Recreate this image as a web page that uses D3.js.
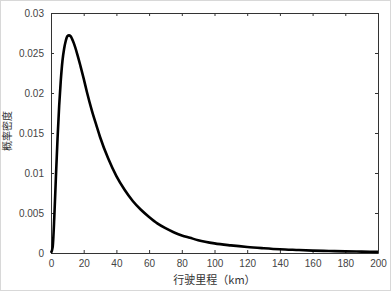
<!DOCTYPE html>
<html>
<head>
<meta charset="utf-8">
<script src="https://cdn.jsdelivr.net/npm/d3@7"></script>
<style>
  body { margin: 0; background: #fff; }
  .axis text { font-family: Arial, "Liberation Sans", sans-serif; font-size: 10px; fill: #444; }
  .axis path, .axis line { stroke: #333; }
</style>
</head>
<body>
<div id="d3"></div>
<script>
// mileage (km) and probability density
var km = [0, 1, 2, 3, 4, 5, 6, 7, 8, 9, 10, 11, 12, 13, 14, 16, 18, 20, 22, 25, 28, 30,
  35, 40, 45, 50, 55, 60, 65, 70, 75, 80, 85, 90, 100, 110, 120, 130, 140, 150, 160, 170, 180, 190, 200];
var density = [0, 0.0007, 0.0044, 0.0095, 0.0143, 0.0184, 0.0216, 0.0240, 0.0255, 0.0265,
  0.0271, 0.0272, 0.0271, 0.0267, 0.0262, 0.0249, 0.0234, 0.0218, 0.0201, 0.0178, 0.0158,
  0.0145, 0.0118, 0.0096, 0.0079, 0.0065, 0.0054, 0.0045, 0.0037, 0.0031, 0.0026, 0.0022,
  0.0019, 0.0016, 0.0012, 0.00095, 0.00075, 0.0006, 0.00047, 0.00038, 0.0003, 0.00025,
  0.0002, 0.00017, 0.00014];
var xTicks = [0, 20, 40, 60, 80, 100, 120, 140, 160, 180, 200];
var yTicks = [0, 0.005, 0.01, 0.015, 0.02, 0.025, 0.03];

var margin = {top: 13, right: 14, bottom: 41, left: 51},
  width = 392 - margin.left - margin.right,
  height = 294 - margin.top - margin.bottom;

var root = d3.select("#d3")
  .append("svg")
  .attr("width", 392)
  .attr("height", 294);

// light frame round the picture
root.append("rect")
  .attr("x", 0.5).attr("y", 0.5)
  .attr("width", 390).attr("height", 290)
  .attr("fill", "none")
  .attr("stroke", "#d8d8d8");

var svg = root.append("g")
  .attr("transform", "translate(" + margin.left + "," + margin.top + ")");

var x = d3.scaleLinear().domain([0, 200]).range([0, width]);
var y = d3.scaleLinear().domain([0, 0.03]).range([height, 0]);

var fmt = function(d) { return d3.format("~g")(d); };

// bottom and left axes, ticks pointing inwards
svg.append("g")
  .attr("class", "axis")
  .attr("transform", "translate(0," + height + ")")
  .call(d3.axisBottom(x).tickValues(xTicks).tickSizeInner(-3).tickSizeOuter(0).tickPadding(7).tickFormat(fmt));

svg.append("g")
  .attr("class", "axis")
  .call(d3.axisLeft(y).tickValues(yTicks).tickSizeInner(-3).tickSizeOuter(0).tickPadding(7).tickFormat(fmt));

// top and right axes without labels (box)
svg.append("g")
  .attr("class", "axis")
  .call(d3.axisTop(x).tickValues(xTicks).tickSizeInner(-3).tickSizeOuter(0).tickFormat(""));

svg.append("g")
  .attr("class", "axis")
  .attr("transform", "translate(" + width + ",0)")
  .call(d3.axisRight(y).tickValues(yTicks).tickSizeInner(-3).tickSizeOuter(0).tickFormat(""));

// the density curve
svg.append("path")
  .datum(km.map(function(d, i) { return [d, density[i]]; }))
  .attr("fill", "none")
  .attr("stroke", "#000")
  .attr("stroke-width", 2.6)
  .attr("stroke-linejoin", "round")
  .attr("d", d3.line()
    .curve(d3.curveMonotoneX)
    .x(function(d) { return x(d[0]); })
    .y(function(d) { return y(d[1]); }));

// axis titles
svg.append("text")
  .attr("x", width / 2)
  .attr("y", height + 31)
  .attr("text-anchor", "middle")
  .style("font-family", "'Noto Sans CJK SC', sans-serif")
  .style("font-size", "11px")
  .attr("fill", "#333")
  .text("行驶里程（km）");

svg.append("text")
  .attr("transform", "translate(-40," + (height / 2 - 2) + ") rotate(-90)")
  .attr("text-anchor", "middle")
  .style("font-family", "'Noto Sans CJK SC', sans-serif")
  .style("font-size", "10px")
  .attr("fill", "#333")
  .text("概率密度");
</script>
</body>
</html>
